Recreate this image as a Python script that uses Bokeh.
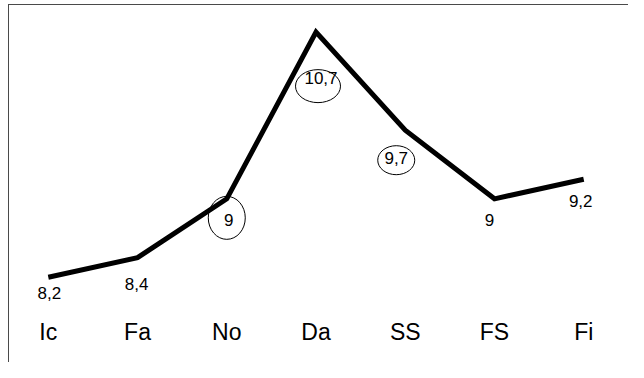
from bokeh.plotting import figure
from bokeh.models import ColumnDataSource, Range1d, FixedTicker
from bokeh.core.properties import value
from bokeh.embed import file_html
from bokeh.resources import INLINE

# ---- data ----
categories = ["Ic", "Fa", "No", "Da", "SS", "FS", "Fi"]
values = [8.2, 8.4, 9.0, 10.7, 9.7, 9.0, 9.2]
value_labels = ["8,2", "8,4", "9", "10,7", "9,7", "9", "9,2"]
circled = [False, False, True, True, True, False, False]

# ---- style (label offsets in screen px, relative to the point) ----
label_dx = [1, -1, 2, 5, -9, -5, -3]
label_dy = [16, 26, 21, 46, 28, 21, 22]
ell_dx = [0, 0, 0, 2, -9, 0, 0]
ell_dy = [0, 0, 19, 54, 30, 0, 0]
ell_w = [0, 0, 37, 45, 37, 0, 0]
ell_h = [0, 0, 43, 33, 29, 0, 0]

W, H = 628, 362
BOTTOM = 50
X0, X1 = -0.5357, 6.502
Y0, Y1 = 7.841, 11.0225
frame_w = W
frame_h = H - BOTTOM
px_x = frame_w / (X1 - X0)
px_y = frame_h / (Y1 - Y0)

xs = list(range(len(categories)))

BORDER = "#4a4a4a"
p = figure(width=W, height=H, output_backend="svg", toolbar_location=None,
           x_range=Range1d(X0, X1), y_range=Range1d(Y0, Y1),
           min_border_left=0, min_border_right=0, min_border_top=0,
           min_border_bottom=BOTTOM,
           styles={"background": (
               f"linear-gradient({BORDER},{BORDER}) 8px 4px / 1px 100% no-repeat, "
               f"linear-gradient({BORDER},{BORDER}) 8px 4px / 100% 1px no-repeat, "
               "#ffffff")})
p.outline_line_color = None
p.grid.visible = False
p.yaxis.visible = False
p.background_fill_color = None
p.border_fill_color = None

ax = p.xaxis[0]
ax.ticker = FixedTicker(ticks=xs)
ax.major_label_overrides = {i: c for i, c in enumerate(categories)}
ax.axis_line_color = None
ax.major_tick_line_color = None
ax.minor_tick_line_color = None
ax.major_tick_out = 0
ax.major_tick_in = 0
ax.major_label_standoff = 6
ax.major_label_text_font = "Liberation Sans"
ax.major_label_text_font_size = "23px"
ax.major_label_text_color = "black"

p.line(xs, values, line_color="black", line_width=5, line_join="miter")

src = ColumnDataSource(dict(x=xs, y=values, t=value_labels,
                            dx=label_dx, dy=label_dy))
p.text(x="x", y="y", text="t", x_offset="dx", y_offset="dy", source=src,
       text_font=value("Liberation Sans"), text_font_size="17px",
       text_align="center", text_baseline="middle", text_color="black")

ex, ey, ew, eh = [], [], [], []
for i, c in enumerate(circled):
    if c:
        ex.append(xs[i] + ell_dx[i] / px_x)
        ey.append(values[i] - ell_dy[i] / px_y)
        ew.append(ell_w[i])
        eh.append(ell_h[i])
esrc = ColumnDataSource(dict(x=ex, y=ey, w=ew, h=eh))
p.ellipse(x="x", y="y", width="w", height="h", width_units="screen",
          height_units="screen", source=esrc, fill_color=None,
          line_color="black", line_width=1)

open("out.html", "w").write(file_html(p, INLINE))
